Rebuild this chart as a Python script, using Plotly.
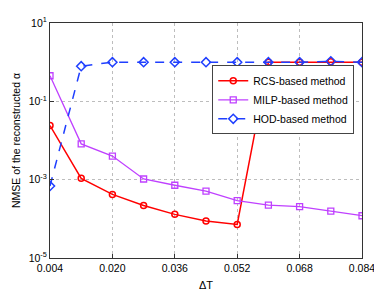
import plotly.graph_objects as go

delta_t = [0.004, 0.012, 0.020, 0.028, 0.036, 0.044, 0.052, 0.060, 0.068, 0.076, 0.084]
rcs = [2.4e-2, 1.08e-3, 4.2e-4, 2.2e-4, 1.3e-4, 8.8e-5, 7.2e-5, 1.0, 1.0, 1.02, 1.0]
milp = [0.45, 8.2e-3, 4.0e-3, 1.04e-3, 7.2e-4, 5.1e-4, 2.9e-4, 2.25e-4, 2.05e-4, 1.58e-4, 1.2e-4]
hod = [6.9e-4, 0.79, 1.0, 1.0, 1.0, 1.0, 1.0, 1.0, 1.0, 1.05, 1.0]

x_ticks = [0.004, 0.020, 0.036, 0.052, 0.068, 0.084]
x_ticklabels = ["0.004", "0.020", "0.036", "0.052", "0.068", "0.084"]
y_ticks = [1e-5, 1e-3, 1e-1, 10]
y_ticklabels = ["10<sup>-5</sup>", "10<sup>-3</sup>", "10<sup>-1</sup>", "10<sup>1</sup>"]

fig = go.Figure()
fig.add_trace(go.Scatter(x=delta_t, y=rcs, name="RCS-based method", mode="lines+markers",
                         line=dict(color="#ff0000", width=1.5),
                         marker=dict(symbol="circle-open", size=6, color="#ff0000", line=dict(width=1.5))))
fig.add_trace(go.Scatter(x=delta_t, y=milp, name="MILP-based method", mode="lines+markers",
                         line=dict(color="#bf40ff", width=1.3),
                         marker=dict(symbol="square-open", size=6, color="#bf40ff", line=dict(width=1.3))))
fig.add_trace(go.Scatter(x=delta_t, y=hod, name="HOD-based method", mode="lines+markers",
                         line=dict(color="#1f3fff", width=1.5, dash="dash"),
                         marker=dict(symbol="diamond-open", size=7, color="#1f3fff", line=dict(width=1.5))))

axis_common = dict(showline=True, linecolor="#333333", linewidth=1, mirror=True,
                   ticks="inside", ticklen=4, tickcolor="#333333",
                   showgrid=True, gridcolor="#bdbdbd", griddash="dot", gridwidth=1,
                   zeroline=False, tickfont=dict(size=10.5, color="#000000"),
                   ticklabeloverflow="allow")

fig.update_xaxes(range=[0.004, 0.084], tickvals=x_ticks, ticktext=x_ticklabels,
                 title=dict(text="ΔT", font=dict(size=11, color="#000000"), standoff=8),
                 **axis_common)
fig.update_yaxes(type="log", range=[-5, 1], tickvals=y_ticks, ticktext=y_ticklabels,
                 title=dict(text="NMSE of the reconstructed α", font=dict(size=10.5, color="#000000"), standoff=6),
                 **axis_common)

# page body has an 8px margin: figure is sized/offset so the plot lands where the reference has it
fig.update_layout(
    width=374, height=288,
    margin=dict(l=37, r=20, t=7, b=32),
    paper_bgcolor="white", plot_bgcolor="white",
    font=dict(family="Liberation Sans, Arial, sans-serif", size=11, color="#000000"),
    legend=dict(x=0.52, y=0.82, xanchor="left", yanchor="top",
                bgcolor="white", bordercolor="#444444", borderwidth=1,
                font=dict(size=10.5), tracegroupgap=0, itemwidth=30),
    showlegend=True,
)

fig.write_html("out.html")
